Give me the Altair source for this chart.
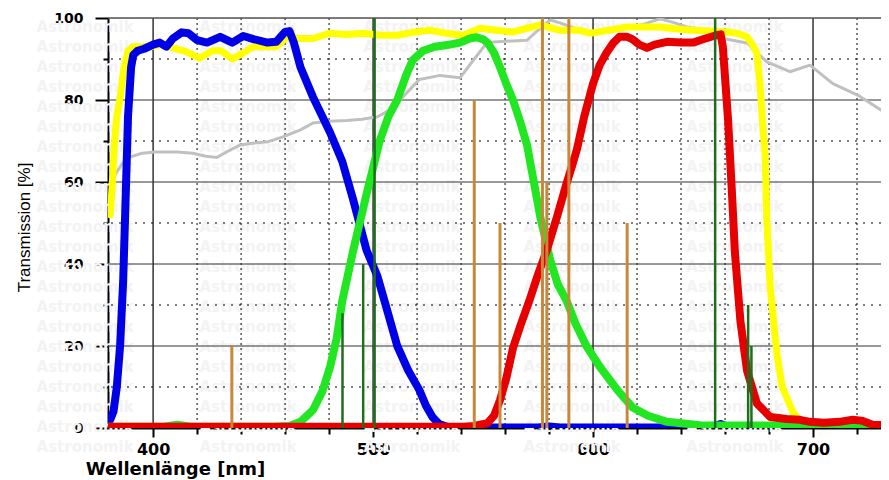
import altair as alt
import pandas as pd

# ---------------- data ----------------
blue_nm = [379.5, 380.5, 382, 383.5, 385, 386.4, 387.3, 388.6, 390, 391, 393, 396, 400, 403, 406, 409,
           413, 416, 420, 424.5, 430.5, 436, 441, 446, 452, 456, 460, 462, 464, 467, 472.7, 480.5,
           486, 491, 497, 502, 506, 511, 516, 521, 524, 527, 530, 533.6, 540, 575, 580, 585, 650,
           655, 658, 661, 665, 731]
blue_t = [1.5, 2, 4, 10, 20, 36, 52, 76, 88, 91, 92, 92.5, 93.5, 94, 93, 95,
          96.5, 96.3, 94.6, 94, 95.4, 94, 95.6, 94.8, 94, 94.2, 96.6, 96.8, 94, 88, 80.7, 72,
          65, 55.6, 43.4, 37, 29.5, 20, 14, 9.3, 5.5, 2.7, 1, 0.3, 0.1, 0.1, 0.4, 0.1, 0.1,
          0.3, 1, 0.3, 0, 0]

green_nm = [379.5, 405, 411, 417, 455, 462, 467, 472.7, 477, 480.5, 483.5, 486, 491, 497, 503, 507,
            511, 515, 518, 522.7, 528, 533.6, 539.5, 544, 547, 550, 552, 555, 557.7, 560.5, 563.6,
            567, 570, 576, 580.5, 584, 588, 592, 597, 603, 611, 618, 625, 633.6, 648.6, 731]
green_t = [0.3, 0.3, 0.8, 0.3, 0.3, 0.5, 1.5, 4.4, 9, 15, 22, 31, 43.4, 57, 70, 76,
           80, 86, 89.7, 92, 93, 93.4, 94, 95, 95.3, 94.8, 94, 91.5, 88, 84, 80,
           74.5, 69, 51.5, 41, 35, 31, 25.5, 20, 15, 9.3, 5, 3, 1.5, 0.7, 0.5]

red_nm = [379.5, 541, 546, 552, 555, 557.7, 560.5, 563.6, 567, 571, 575, 579, 583.6, 588, 590.5,
          592.7, 596, 600, 603, 606, 609, 612, 615.5, 618, 621, 624.5, 628, 633.6, 640, 645.5, 650,
          656, 658, 659, 660.2, 661.4, 663, 664.5, 667, 670, 674.5, 680.5, 688, 694, 698.6, 705,
          712, 718, 722, 727, 731]
red_t = [0.3, 0.3, 0.5, 1.2, 3, 6.8, 12, 19.5, 25, 31, 37.5, 43.4, 51.5, 59.7, 64,
         68, 76, 84, 88.5, 91.4, 93.8, 95.4, 95.4, 94.8, 93.5, 92.7, 93.5, 94.2, 94, 94, 94.8,
         95.8, 96, 93, 84, 75, 58.8, 42.7, 26, 14, 6, 2.7, 2.2, 2, 1.5, 1.3,
         1.5, 2, 1.8, 0.8, 0.7]

yellow_nm = [380.5, 381.5, 382.5, 383.5, 385, 386.5, 388.6, 391, 398.6, 404, 409, 415, 421, 427, 431,
             436, 441, 445.5, 451, 456, 461, 466, 472.7, 480.5, 488, 495.5, 503, 511, 518, 526, 533,
             541, 548.6, 556, 563.6, 570, 576, 585, 594, 598.6, 607, 615.5, 622, 630.5, 638, 645.5,
             653, 661, 666, 670, 672.5, 674.5, 676, 677.4, 678.2, 679, 680.5, 683.6, 686, 691, 694,
             700, 710, 731]
yellow_t = [52, 60, 70, 76, 80.5, 87, 92, 93, 93, 93.5, 92.7, 91.8, 90.2, 92, 92,
            90, 91.5, 93, 93, 93, 95.4, 95, 95, 96.3, 96, 96.3, 95.8, 95.8, 96.5, 97, 96.3,
            95.8, 97.5, 97, 96.6, 97.5, 98.3, 97, 97, 96.3, 97, 97.8, 97.8, 97.8, 97.3, 97,
            96.8, 96.6, 96.2, 95.4, 93.5, 91.4, 83, 72, 67, 51, 34.5, 18, 10, 3.7, 2,
            1.3, 1, 0.8]

gray_nm = [381, 383, 386, 389, 395, 401, 411, 418, 424, 429, 434, 439.5, 446, 452, 459, 467, 472.7,
           480, 488, 495, 502, 507.7, 514, 521, 530.5, 539.5, 546, 551.8, 560, 570, 576, 580.5, 585,
           590, 598.6, 607, 615.5, 623, 630.5, 636, 642.7, 651.8, 659, 670, 679, 689.5, 698.6, 709,
           721, 731]
gray_t = [60, 62, 64.5, 66, 67, 67.3, 67.3, 67, 66.3, 66, 67.5, 69, 69.5, 69.8, 71, 72.7, 74.4,
          74.8, 75, 75.3, 75.9, 77.6, 81, 85, 86, 85.4, 90, 94, 94.3, 94.6, 97.5, 99.5, 98.8,
          97.8, 96, 96.8, 97.5, 98.5, 99.8, 99, 97.8, 97, 95, 93.9, 89.3, 86.9, 88.5, 84,
          81, 77.5]

# emission lines
orange_nm = [435.8, 546.0, 557.7, 577.0, 579.0, 589.0, 615.5]
orange_t = [20, 80, 50, 100, 60, 100, 50]
dkgreen_nm = [486.1, 495.5, 500.7, 655.5, 670.5, 672.0]
dkgreen_t = [28, 40, 100, 100, 30, 20]

# grid / tick values
x_ticks = [400, 420, 440, 460, 480, 500, 520, 540, 560, 580, 600, 620, 640, 660, 680, 700, 720]
x_major = [400, 500, 600, 700]
x_minor = [420, 440, 460, 480, 520, 540, 560, 580, 620, 640, 660, 680, 720]
y_ticks = [0, 10, 20, 30, 40, 50, 60, 70, 80, 90, 100]
y_major = [20, 40, 60, 80]
y_minor = [10, 30, 50, 70, 90]

# watermark grid
wm_text = "Astronomik"
wm_nm = [369.1, 443.2, 517.7, 590.5, 664.5]
wm_t = [97.8, 92.9, 88.0, 83.2, 78.3, 73.4, 68.5, 63.7, 58.8, 53.9, 49.0, 44.1, 39.3,
        34.4, 29.5, 24.6, 19.8, 14.9, 10.0, 5.1, 0.2, -4.6]

# ---------------- chart ----------------
FONT = "DejaVu Sans"
x_scale = alt.Scale(domain=[379.5, 730.9], nice=False, zero=False)
y_scale = alt.Scale(domain=[0, 100], nice=False, zero=False)

x_axis = alt.Axis(
    values=x_ticks, grid=False, domain=True, domainColor="black", domainWidth=2,
    ticks=True, tickColor="black", tickWidth=2,
    tickSize={"condition": {"test": "datum.value % 100 === 0", "value": 9}, "value": 6},
    labelExpr="datum.value % 100 === 0 ? datum.label : ''",
    labelFont=FONT, labelFontSize=16, labelFontWeight="bold", labelColor="black",
    labelPadding=4, labelFlush=False, labelOverlap=False,
    title="Wellenlänge [nm]", titleFont=FONT, titleFontSize=18, titleFontWeight="bold",
    titleColor="black", titleX=67, titleY=46, titleAlign="center", titleBaseline="alphabetic",
)
y_axis = alt.Axis(
    values=y_ticks, grid=False, domain=True, domainColor="black", domainWidth=2,
    ticks=True, tickColor="black", tickWidth=2,
    tickSize={"condition": {"test": "datum.value % 20 === 0", "value": 13}, "value": 5},
    labelExpr="datum.value % 20 === 0 ? datum.label : ''",
    labelFont=FONT, labelFontSize=14, labelFontWeight="bold", labelColor="black",
    labelPadding=12, labelFlush=False, labelOverlap=False,
    title="Transmission [%]", titleFont="Liberation Sans Narrow, Liberation Sans", titleFontSize=17,
    titleFontWeight="normal", titleColor="black", titleAngle=270,
    titleX=-84, titleY=209, titleAlign="center", titleBaseline="middle",
)


def X(field):
    return alt.X(f"{field}:Q", scale=x_scale, axis=x_axis)


def Y(field):
    return alt.Y(f"{field}:Q", scale=y_scale, axis=y_axis)


# watermark
wm_rows = [{"nm": a, "t": b, "txt": wm_text} for b in wm_t for a in wm_nm]
watermark = alt.Chart(pd.DataFrame(wm_rows)).mark_text(
    font=FONT, fontSize=15, fontWeight="bold", color="#f3f3f3", clip=False
).encode(x=X("nm"), y=Y("t"), text="txt:N")

# grid
vmin = alt.Chart(pd.DataFrame({"nm": x_minor})).mark_rule(
    color="black", strokeWidth=1, strokeDash=[2, 3]).encode(x=X("nm"))
hmin = alt.Chart(pd.DataFrame({"t": y_minor})).mark_rule(
    color="black", strokeWidth=1, strokeDash=[2, 6]).encode(y=Y("t"))
vmaj = alt.Chart(pd.DataFrame({"nm": x_major})).mark_rule(
    color="black", strokeWidth=1.2).encode(x=X("nm"))
hmaj = alt.Chart(pd.DataFrame({"t": y_major})).mark_rule(
    color="#333333", strokeWidth=1).encode(y=Y("t"))
top = alt.Chart(pd.DataFrame({"t": [100]})).mark_rule(
    color="#555555", strokeWidth=1.5).encode(y=Y("t"))


def curve(nm, t, color, width):
    df = pd.DataFrame({"nm": nm, "t": t})
    return alt.Chart(df).mark_line(
        color=color, strokeWidth=width, strokeJoin="round", strokeCap="round", clip=True
    ).encode(x=X("nm"), y=Y("t"), order="nm:Q")


gray = curve(gray_nm, gray_t, "#c0c0c0", 3)
yellow = curve(yellow_nm, yellow_t, "#ffff00", 7)
blue = curve(blue_nm, blue_t, "#0000e6", 8)
green = curve(green_nm, green_t, "#22e622", 8)
red = curve(red_nm, red_t, "#e60000", 8)

orange_lines = alt.Chart(pd.DataFrame({"nm": orange_nm, "base": [0] * len(orange_nm), "t": orange_t})).mark_rule(
    color="#c8883c", strokeWidth=3).encode(x=X("nm"), y=Y("base"), y2="t:Q")
dk_lines = alt.Chart(pd.DataFrame({"nm": dkgreen_nm, "base": [0] * len(dkgreen_nm), "t": dkgreen_t})).mark_rule(
    color="#1e6e1e", strokeWidth=2.5).encode(x=X("nm"), y=Y("base"), y2="t:Q")

chart = alt.layer(
    watermark, vmin, hmin, vmaj, hmaj, top, gray, yellow, blue, green, red, orange_lines, dk_lines
).properties(
    width=773, height=410,
    autosize=alt.AutoSizeParams(type="none"),
    padding={"left": 100, "top": 10, "right": 0, "bottom": 52},
).configure_view(stroke=None).configure(background="white")

chart.save("out.html", embed_options={"renderer": "svg", "actions": False})
